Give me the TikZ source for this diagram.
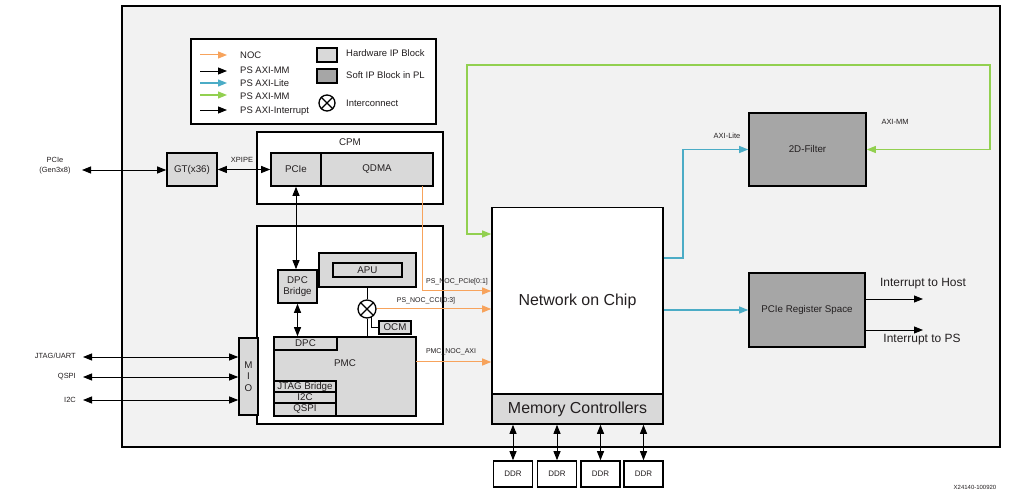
\documentclass[tikz,border=0pt]{standalone}
\usepackage{fontspec}
\setmainfont{Liberation Sans}
\usetikzlibrary{arrows.meta,calc}
\definecolor{bggray}{HTML}{F2F2F2}
\definecolor{hwgray}{HTML}{D9D9D9}
\definecolor{swgray}{HTML}{A6A6A6}
\definecolor{nocorange}{HTML}{F7A35C}
\definecolor{liteblue}{HTML}{4BACC6}
\definecolor{mmgreen}{HTML}{92D050}
\definecolor{txt}{HTML}{231F20}
\newcommand{\myfs}[2]{\fontsize{#1}{#2}\selectfont}
\begin{document}
\begin{tikzpicture}[x=1bp,y=-1bp,
  >={Triangle[length=9bp,width=7bp]},
  every node/.style={text=txt,inner sep=0pt},
  frame/.style={draw,line width=1.6bp,fill=white},
  hw/.style={draw,line width=1.6bp,fill=hwgray,font=\myfs{9.8}{11.5},align=center},
  sw/.style={draw,line width=1.6bp,fill=swgray,font=\myfs{9.8}{11.5},align=center},
  blk/.style={draw=black,line width=0.9bp},
  oline/.style={draw=nocorange,line width=1bp},
  bline/.style={draw=liteblue,line width=1.2bp},
  gline/.style={draw=mmgreen,line width=1.2bp},
  lbl/.style={font=\myfs{7}{8.5}},
  lgd/.style={font=\myfs{9.5}{11},anchor=west},
  icon/.style={circle,draw,line width=1.3bp,fill=white,minimum size=18bp}
]
\useasboundingbox (0,0) rectangle (1033,492);
% main background
\node[draw,line width=1.5bp,fill=bggray,minimum width=878bp,minimum height=441bp] (bg) at (561,226.5) {};

% legend
\node[frame,line width=1.2bp,minimum width=245bp,minimum height=85bp] (legend) at (313.5,81.5) {};
\coordinate (l1a) at (200,55);  \coordinate (l1b) at (227,55);
\coordinate (l2a) at (200,71);  \coordinate (l2b) at (227,71);
\coordinate (l3a) at (200,83);  \coordinate (l3b) at (227,83);
\coordinate (l4a) at (200,95);  \coordinate (l4b) at (227,95);
\coordinate (l5a) at (200,110); \coordinate (l5b) at (227,110);
\draw[oline,->] (l1a) -- (l1b);
\draw[blk,->] (l2a) -- (l2b);
\draw[bline,->] (l3a) -- (l3b);
\draw[gline,->] (l4a) -- (l4b);
\draw[blk,->] (l5a) -- (l5b);
\node[lgd] (t1) at (240,55) {NOC};
\node[lgd] (t2) at (240,70) {PS AXI-MM};
\node[lgd] (t3) at (240,83) {PS AXI-Lite};
\node[lgd] (t4) at (240,96) {PS AXI-MM};
\node[lgd] (t5) at (240,111) {PS AXI-Interrupt};
\node[hw,minimum width=20bp,minimum height=14bp] (lhw) at (327,55) {};
\node[sw,minimum width=20bp,minimum height=14bp] (lsw) at (327,76) {};
\node[icon,minimum size=16bp] (lic) at (327,103) {};
\draw[line width=1.3bp] (lic.45) -- (lic.225) (lic.135) -- (lic.315);
\node[lgd] (t6) at (346,53) {Hardware IP Block};
\node[lgd] (t7) at (346,75) {Soft IP Block in PL};
\node[lgd] (t8) at (346,103) {Interconnect};

% CPM
\node[frame,minimum width=186bp,minimum height=72bp] (cpm) at (350,168) {};
\node[font=\myfs{9.8}{11}] (cpmlbl) at (350,142) {CPM};
\node[hw,minimum width=50bp,minimum height=33bp] (pcie) at (296,169.5) {PCIe};
\node[hw,minimum width=112bp,minimum height=33bp] (qdma) at (377,169.5) {QDMA};
\node[hw,minimum width=50bp,minimum height=33bp] (gt) at (192,169.5) {GT(x36)};

% PS box
\node[frame,minimum width=186bp,minimum height=198bp] (ps) at (350,325) {};
\node[hw,minimum width=39bp,minimum height=33bp] (dpcb) at (297.5,286.5) {DPC\\Bridge};
\node[hw,minimum width=97bp,minimum height=34bp] (apuo) at (367.5,270) {};
\node[hw,minimum width=69bp,minimum height=14bp] (apu) at (367.5,270) {APU};
\node[hw,minimum width=142bp,minimum height=79bp] (pmc) at (345,376.5) {};
\node[font=\myfs{9.8}{11}] (pmclbl) at (345,363) {PMC};
\node[hw,minimum width=63bp,minimum height=13bp] (dpc) at (305.5,343.5) {DPC};
\node[hw,minimum width=62bp,minimum height=11bp] (jtagb) at (305,386.5) {JTAG Bridge};
\node[hw,minimum width=62bp,minimum height=11bp] (i2cb) at (305,397.5) {I2C};
\node[hw,minimum width=62bp,minimum height=13bp] (qspib) at (305,409.5) {QSPI};
\node[icon] (ic) at (367,309) {};
\draw[line width=1.3bp] (ic.45) -- (ic.225) (ic.135) -- (ic.315);
\node[hw,minimum width=32bp,minimum height=13bp] (ocm) at (395,327.5) {OCM};
\node[hw,minimum width=19bp,minimum height=77bp] (mio) at (248.5,376.5) {M\\I\\O};

% NoC
\node[frame,minimum width=171bp,minimum height=187bp,font=\myfs{16}{19}] (noc) at (577.5,301) {Network on Chip};
\node[hw,minimum width=171bp,minimum height=30bp,font=\myfs{16}{19}] (mc) at (577.5,409) {Memory Controllers};
\foreach \i/\x in {1/513,2/557,3/600.5,4/643.5}{
  \node[frame,minimum width=39bp,minimum height=26bp,font=\myfs{8}{9}] (ddr\i) at (\x,474) {DDR};
  \draw[blk,<->] (ddr\i.north) -- (ddr\i.north |- mc.south);
}

% PL blocks
\node[sw,minimum width=117bp,minimum height=73bp] (f2d) at (807.5,149.5) {2D-Filter};
\node[sw,minimum width=116bp,minimum height=74bp] (preg) at (807,310) {PCIe Register Space};

% external PCIe
\node[lbl,align=center,font=\myfs{7.5}{10}] (pciel) at (55,166) {PCIe\\(Gen3x8)};
\coordinate (pext) at (82,170);
\draw[blk,<->] (pext) -- (gt.west |- pext);
\draw[blk,<->] (gt.east) -- (pcie.west);
\node[lbl,font=\myfs{7.5}{9}] (xpipe) at (242,160) {XPIPE};
\draw[blk,<->] (pcie.south) -- (pcie.south |- dpcb.north);
\draw[blk,<->] (dpcb.south) -- (dpcb.south |- dpc.north);
\draw[blk] (apuo.south -| ic.north) -- (ic.north);
\draw[blk] (ic.south) -- (ic.south |- pmc.north);
\draw[blk] (ic.300) |- (ocm.west);

% MIO external
\coordinate (jx) at (83,357);
\coordinate (qx) at (83,377);
\coordinate (ix) at (83,400);
\draw[blk,<->] (jx) -- (mio.west |- jx);
\draw[blk,<->] (qx) -- (mio.west |- qx);
\draw[blk,<->] (ix) -- (mio.west |- ix);
\node[lbl,font=\myfs{7.5}{9},anchor=east] (jl) at (76,356) {JTAG/UART};
\node[lbl,font=\myfs{7.5}{9},anchor=east] (ql) at (76,377) {QSPI};
\node[lbl,font=\myfs{7.5}{9},anchor=east] (il) at (76,400) {I2C};

% NOC orange lines
\coordinate (qd) at (422,186);
\coordinate (qe) at (422,291);
\draw[oline,->] (qd) -- (qe) -- (noc.west |- qe);
\node[lbl] (pcielbl) at (457,282) {PS\_NOC\_PCIe[0:1]};
\draw[oline,->] (ic.east) -- (noc.west |- ic.east);
\node[lbl] (ccilbl) at (426,301) {PS\_NOC\_CCI[0:3]};
\coordinate (pm) at (416,362);
\draw[oline,->] (pm) -- (noc.west |- pm);
\node[lbl] (axilbl) at (451,352) {PMC\_NOC\_AXI};

% green AXI-MM
\coordinate (g1) at (990,65);
\coordinate (g2) at (467,234);
\draw[gline,<->] (f2d.east) -| (g1) -| (g2) -- (noc.west |- g2);
\node[lbl,font=\myfs{7.5}{9}] (mmlbl) at (895,122) {AXI-MM};

% blue AXI-Lite
\coordinate (b1) at (683,258);
\draw[bline,->] (noc.east |- b1) -- (b1) |- (f2d.west);
\node[lbl,font=\myfs{7.5}{9}] (litelbl) at (727,136) {AXI-Lite};
\draw[bline,->] (noc.east |- preg.west) -- (preg.west);

% interrupts
\coordinate (ih) at (923,299);
\coordinate (ip) at (923,330);
\draw[blk,->] (preg.east |- ih) -- (ih);
\draw[blk,->] (preg.east |- ip) -- (ip);
\node[font=\myfs{12}{14}] (ihl) at (923,284) {Interrupt to Host};
\node[font=\myfs{12}{14}] (ipl) at (922,340) {Interrupt to PS};

% figure id
\node[font=\myfs{6}{7}] (figid) at (975,487) {X24140-100920};
\end{tikzpicture}
\end{document}
